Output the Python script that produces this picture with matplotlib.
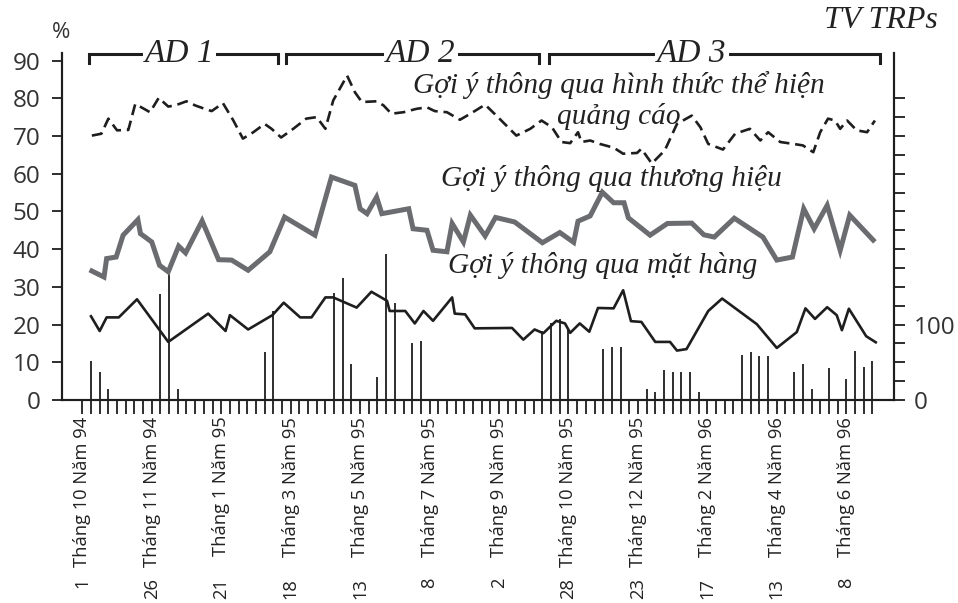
import matplotlib
matplotlib.use('Agg')
import matplotlib.pyplot as plt
import matplotlib.transforms as mtransforms

plt.rcParams['font.family'] = ['Open Sans', 'DejaVu Sans']

# tuần 0 = 1 Tháng 10 Năm 94, một vạch mỗi tuần
n_weeks = 92
label_weeks = [0, 8, 16, 24, 32, 40, 48, 56, 64, 72, 80, 88]
label_days = ['1', '26', '21', '18', '13', '8', '2', '28', '23', '17', '13', '8']
label_months = ['Tháng 10 Năm 94', 'Tháng 11 Năm 94', 'Tháng 1 Năm 95',
                'Tháng 3 Năm 95', 'Tháng 5 Năm 95', 'Tháng 7 Năm 95',
                'Tháng 9 Năm 95', 'Tháng 10 Năm 95', 'Tháng 12 Năm 95',
                'Tháng 2 Năm 96', 'Tháng 4 Năm 96', 'Tháng 6 Năm 96']

# Gợi ý thông qua hình thức thể hiện quảng cáo (%)
form_w = [1.1, 2.2, 3, 4, 5.3, 6.1, 7.8, 8.8, 9.9, 10.7, 12, 13, 14.1, 14.9, 16.2,
          17.4, 18.5, 19.7, 21, 21.8, 22.9, 24.3, 25.8, 27, 28, 28.9, 30.5, 31.4,
          32.2, 33.9, 34.7, 35.6, 37, 38.5, 39.7, 40.6, 42, 43.5, 44.7, 46.4, 47.7,
          50, 51.6, 52.9, 54.1, 55.2, 56.2, 57.1, 57.5, 58.5, 59.6, 61.2, 62.3,
          63.9, 64.4, 65.6, 67.1, 68.5, 70.2, 71.2, 72.1, 73.8, 75.2, 76.9, 78.1,
          79, 80.4, 81.9, 83, 84.2, 85, 85.9, 86.7, 87.3, 88.1, 89.2, 90.4, 91.3]
form_v = [70.1, 70.6, 74.6, 71.5, 71.6, 78.5, 76.3, 80.1, 77.8, 78.1, 79.2, 78.1,
          77.2, 76.6, 78.7, 74.1, 69.3, 71, 73.2, 71.9, 69.6, 71.9, 74.6, 75, 71.9,
          79.4, 86, 81.6, 79, 79.2, 78.1, 75.9, 76.3, 77.2, 77.6, 76.6, 76.3, 74.3,
          75.9, 78.3, 75.4, 70.1, 71.9, 74.1, 72.3, 68.4, 68.1, 71, 68.4, 68.8,
          67.9, 66.9, 65.3, 65.5, 66.6, 62.7, 66.2, 73.2, 75.4, 72.3, 67.9, 66.4,
          70.6, 71.9, 68.8, 71, 68.4, 67.9, 67.5, 65.7, 71, 74.6, 74.1, 71.9,
          74.1, 71.5, 71, 74.1]

# Gợi ý thông qua thương hiệu (%)
brand_w = [1.1, 2.5, 2.8, 3.9, 4.7, 6.4, 6.7, 8, 8.9, 9.9, 11.1, 11.9, 13.8, 15.7,
           17.2, 19.1, 21.6, 23.3, 26.8, 28.7, 31.4, 32, 32.8, 33.9, 34.5, 37.6,
           38.1, 39.7, 40.4, 42, 42.6, 43.9, 44.7, 46.4, 47.6, 49.8, 53, 55, 56.6,
           57.1, 58.5, 59.9, 61.2, 62.4, 62.9, 65.4, 67.4, 70.2, 71.6, 72.8, 75.1,
           78.4, 80, 81.8, 83.1, 84.3, 85.8, 87.3, 88.4, 91.1]
brand_v = [34.2, 32.6, 37.5, 37.9, 43.7, 47.8, 44.1, 41.9, 35.7, 34, 40.8, 39,
           47.5, 37.2, 37.1, 34.4, 39.3, 48.5, 43.7, 59.1, 56.9, 50.7, 49.4, 53.8,
           49.4, 50.7, 45.4, 45, 39.7, 39.3, 46.8, 41.9, 49, 43.5, 48.4, 47.2,
           41.7, 44.4, 41.8, 47.4, 48.8, 55.1, 52.3, 52.3, 48.3, 43.7, 46.8, 46.9,
           43.8, 43.2, 48.2, 43.2, 37.1, 37.9, 50.7, 45.4, 51.6, 39.7, 49, 42.4]

# Gợi ý thông qua mặt hàng (%)
item_w = [1, 2, 2.8, 4.2, 6.3, 9.9, 14.5, 16.5, 17, 19.1, 21.9, 23.2, 25.1, 26.4,
          28, 28.9, 31.6, 33.3, 35.1, 35.4, 37.2, 38.3, 39.3, 40.4, 42.6, 42.9,
          44.1, 45.2, 49.5, 50.8, 52.1, 53.1, 54.6, 55.6, 56.2, 57.3, 58.4, 59.4,
          61.2, 62.3, 63.2, 64.4, 66, 67.7, 68.5, 69.6, 72.1, 73.7, 77.7, 80,
          82.3, 83.3, 84.4, 85.8, 86.9, 87.5, 88.3, 90.3, 91.4]
item_v = [22.2, 18.3, 21.9, 21.9, 26.7, 15.4, 22.9, 18.3, 22.5, 18.7, 22.5, 25.8,
          21.9, 21.9, 27.2, 27.2, 24.5, 28.7, 26.3, 23.6, 23.6, 20.3, 23.6, 21,
          27.2, 22.9, 22.7, 19, 19.1, 16, 18.7, 17.7, 21, 20.3, 17.8, 20.3, 18.1,
          24.4, 24.3, 29.1, 20.9, 20.7, 15.4, 15.4, 13.1, 13.5, 23.6, 26.9, 20.1,
          13.8, 18, 24.3, 21.5, 24.6, 22.5, 18.5, 24.2, 16.9, 15.3]

# TV TRPs theo tuần
trp_w = [1, 2, 3, 9, 10, 11, 21, 22, 29, 30, 31, 34, 35, 36, 38, 39, 53, 54, 55,
         56, 60, 61, 62, 65, 66, 67, 68, 69, 70, 71, 76, 77, 78, 79, 82, 83, 84,
         86, 88, 89, 90, 91]
trp_v = [52, 37, 14, 140, 169, 14, 63, 118, 142, 162, 48, 30, 193, 129, 76, 78,
         92, 102, 107, 93, 68, 70, 70, 14, 11, 40, 37, 37, 37, 11, 60, 63, 58, 58,
         37, 48, 14, 42, 28, 65, 44, 52]

pct_ticks = [0, 10, 20, 30, 40, 50, 60, 70, 80, 90]
trp_ticks = list(range(0, 401, 25))
trp_tick_labels = ['0' if t == 0 else ('100' if t == 100 else '') for t in trp_ticks]

campaigns = [('AD 1', 0.8, 22.5, 11.2), ('AD 2', 23.5, 52.6, 39.0), ('AD 3', 53.8, 91.9, 70.2)]

W, H = 958, 603
fig = plt.figure(figsize=(W / 100, H / 100), dpi=100)
ax = fig.add_axes([62 / W, 1 - 400 / H, (894 - 62) / W, (400 - 53) / H])
ax2 = ax.twinx()

dark = '#1e1e1e'
ax2.vlines(trp_w, 0, trp_v, color=dark, lw=1.3)
ax2.set_ylim(0, 460)
ax2.set_yticks(trp_ticks)
ax2.set_yticklabels(trp_tick_labels, fontsize=17.5, color='#333333')
ax2.tick_params(axis='y', length=8, width=1.3, pad=6, colors=dark, labelcolor='#333333')

ax.plot(form_w, form_v, color=dark, lw=1.9, dashes=(4.2, 2.2))
ax.plot(brand_w, brand_v, color='#6b6c70', lw=3.6, solid_joinstyle='miter')
ax.plot(item_w, item_v, color=dark, lw=1.9)
ax.set_zorder(ax2.get_zorder() + 1)
ax.patch.set_visible(False)

ax.set_xlim(-2.34, 93.5)
ax.set_ylim(0, 92)
ax.set_yticks(pct_ticks)
ax.set_yticklabels([str(t) for t in pct_ticks], fontsize=17.5, color='#333333')
ax.tick_params(axis='y', length=7.5, width=1.3, pad=8, colors=dark, labelcolor='#333333')

ticks = list(range(n_weeks))
tick_labels = [''] * n_weeks
for w, m in zip(label_weeks, label_months):
    tick_labels[w] = m
ax.set_xticks(ticks)
ax.set_xticklabels(tick_labels, rotation=90, fontsize=13.2, color='#222222')
ax.tick_params(axis='x', length=10, width=1.3, pad=2, colors=dark, labelcolor='#222222')

trans = mtransforms.blended_transform_factory(ax.transData, fig.transFigure)
for w, d in zip(label_weeks, label_days):
    ax.text(w, 1 - 578 / H, d, transform=trans, rotation=90, ha='center', va='top',
            fontsize=13.2, color='#222222')

for a in (ax, ax2):
    a.spines['top'].set_visible(False)
    for s in ('left', 'right', 'bottom'):
        a.spines[s].set_linewidth(1.5)
        a.spines[s].set_color(dark)

serif = dict(family=['Liberation Serif', 'DejaVu Serif'], style='italic', color='#222222')
for name, x0, x1, xc in campaigns:
    ax.plot([x0, x0, x1, x1], [89.4, 91.8, 91.8, 89.4], color=dark, lw=2.2,
            clip_on=False, solid_joinstyle='miter')
    ax.text(xc, 91.9, name, ha='center', va='center', fontsize=24, clip_on=False,
            bbox=dict(facecolor='white', edgecolor='none', pad=1.5), **serif)

ax.text(61.8, 79.4, 'Gợi ý thông qua hình thức thể hiện\nquảng cáo', ha='center',
        va='center', fontsize=21.2, linespacing=1.15, **serif)
ax.text(61.0, 58.8, 'Gợi ý thông qua thương hiệu', ha='center', va='center',
        fontsize=21.2, **serif)
ax.text(60.0, 35.7, 'Gợi ý thông qua mặt hàng', ha='center', va='center',
        fontsize=21.2, **serif)

fig.text(938 / W, 1 - 20 / H, 'TV TRPs', ha='right', va='center', fontsize=23, **serif)
fig.text(61 / W, 1 - 33 / H, '%', ha='center', va='center', fontsize=16, color='#333333')

fig.savefig('out.png', dpi=100)
